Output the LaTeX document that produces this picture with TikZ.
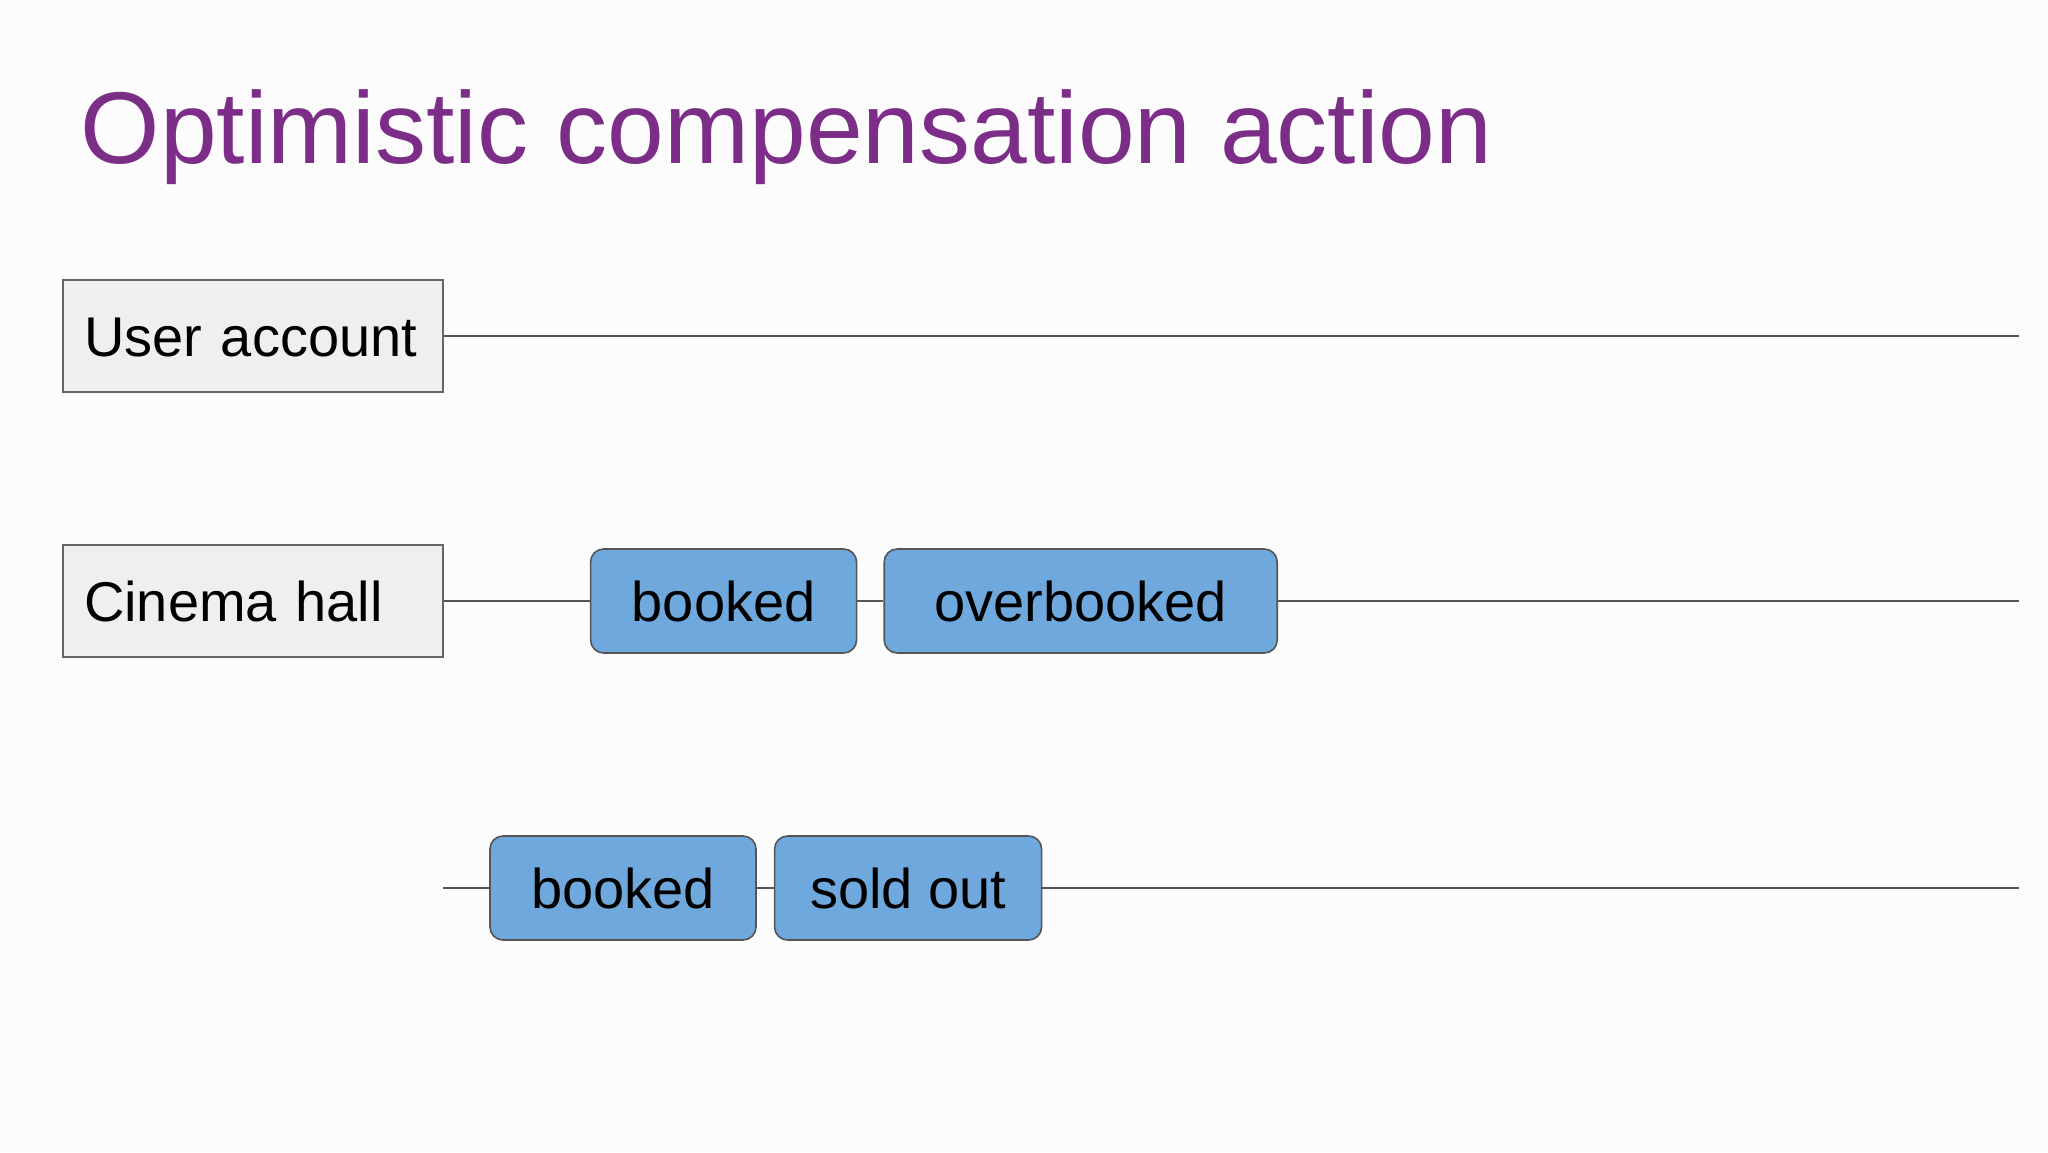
\documentclass[tikz,border=0pt]{standalone}
\usepackage{fontspec}
\setmainfont{Liberation Sans}
\usepackage{xcolor}
\usetikzlibrary{positioning}
\definecolor{titlepurple}{HTML}{7B2D87}
\definecolor{boxgray}{HTML}{EFEEF0}
\definecolor{eventblue}{HTML}{6FA8DC}
\definecolor{linegray}{HTML}{555555}
\definecolor{pagebg}{HTML}{FCFCFC}

\begin{document}
\begin{tikzpicture}[x=1pt,y=-1pt,node distance=27pt,
                    line width=1.6pt,
                    entity/.style={rectangle,draw=linegray!90,fill=boxgray,
                      minimum width=380pt,minimum height=112pt,
                      text width=338pt,align=left,inner xsep=21pt,
                      font=\fontsize{56}{64}\selectfont,
                      text height=40pt,text depth=0pt},
                    event/.style={rectangle,rounded corners=13pt,draw=linegray,
                      fill=eventblue,minimum height=104pt,
                      font=\fontsize{56}{64}\selectfont,
                      text height=40pt,text depth=0pt},
                    timeline/.style={draw=linegray}]

  \fill[pagebg] (0,0) rectangle (2048,1152);

  \node[anchor=base west,inner sep=0pt,text=titlepurple,
        font=\fontsize{102}{112}\selectfont] (title) at (80,163)
        {Optimistic compensation action};

  \node[entity] (user) at (253,336) {\mbox{User account}};
  \node[entity] (hall) at (253,601) {\mbox{Cinema hall}};

  \node[event,minimum width=266pt] (booked1) [right=146pt of hall] {booked};
  \node[event,minimum width=393pt] (over) [right=26pt of booked1] {overbooked};

  \coordinate (start3) at (443,888);
  \node[event,minimum width=266pt] (booked2) at (623,888) {booked};
  \node[event,minimum width=267pt] (soldout) [right=17pt of booked2] {sold out};

  \coordinate (end1) at (2019,336);
  \coordinate (end2) at (2019,601);
  \coordinate (end3) at (2019,888);

  \path[timeline]
    (user) edge (end1)
    (hall) edge (booked1)
    (booked1) edge (over)
    (over) edge (end2)
    (start3) edge (booked2)
    (booked2) edge (soldout)
    (soldout) edge (end3)
    ;
\end{tikzpicture}
\end{document}
